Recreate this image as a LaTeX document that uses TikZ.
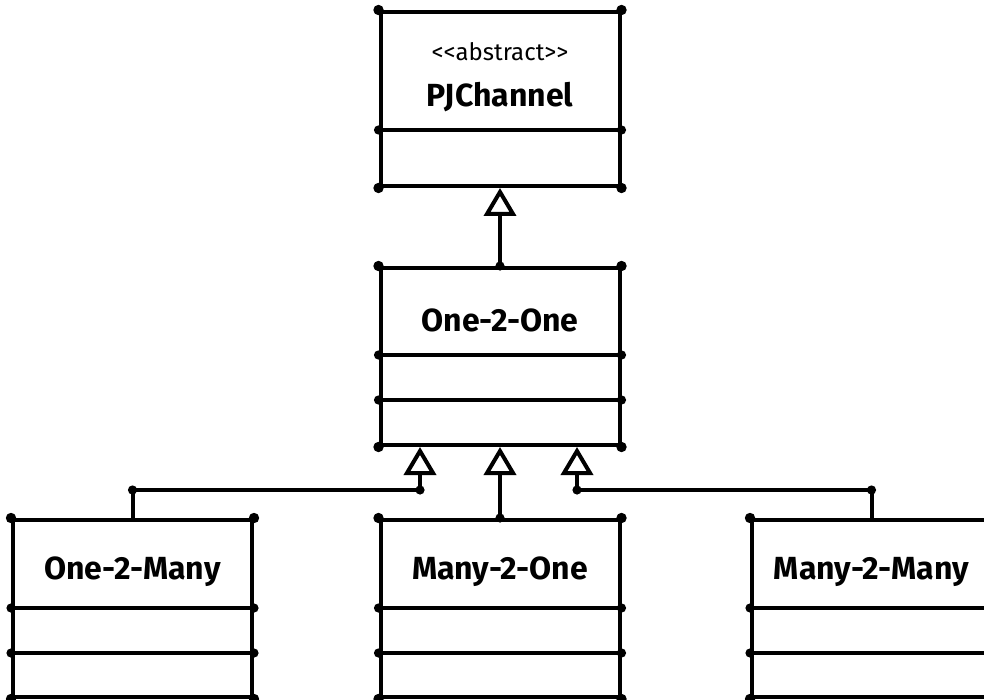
\documentclass[tikz,border=0pt]{standalone}
\usepackage{fontspec}
\setmainfont{Fira Sans}
\usepackage{tikz}
\usetikzlibrary{arrows.meta, positioning, calc}
\tikzset{
  cls/.style={rectangle, draw=black, line width=2pt, fill=white,
              minimum width=119.5pt, minimum height=88.5pt, inner sep=0pt,
              line join=round},
  clsname/.style={font=\fontsize{16}{19}\selectfont\bfseries, inner sep=0pt},
  stereo/.style={font=\fontsize{12}{14}\selectfont, inner sep=0pt},
  sep/.style={line width=2pt, draw=black, line cap=round},
  inh/.style={-{Triangle[open, length=14pt, width=16pt, fill=white]},
              line width=2pt, draw=black, line join=round},
  dot/.style={fill=black},
}

\begin{document}
\begin{tikzpicture}[x=0.5pt, y=-0.5pt]
  \useasboundingbox (0,0) rectangle (984,700);

  % Classes
  \node[cls, minimum height=87pt] (pj)  at (500, 99)    {};
  \node[cls]                      (o2o) at (500, 356.5) {};
  \node[cls]                      (o2m) at (132.5, 608.5) {};
  \node[cls]                      (m2o) at (500, 608.5) {};
  \node[cls]                      (m2m) at (871.5, 608.5) {};

  % Names
  \node[stereo]  (pjst)   at (500, 52)  {<\kern0pt<abstract>\kern0pt>};
  \node[clsname] (pjname) at (500, 97)  {PJChannel};
  \node[clsname] (o2oname) at (500, 320) {One-2-One};
  \node[clsname] (o2mname) at (132.5, 572) {One-2-Many};
  \node[clsname] (m2oname) at (500, 572) {Many-2-One};
  \node[clsname] (m2mname) at (871.5, 572) {Many-2-Many};

  % Compartments
  \draw[sep] (pj.west |- 0,130) -- (pj.east |- 0,130);
  \foreach \y in {355,400}
    \draw[sep] (o2o.west |- 0,\y) -- (o2o.east |- 0,\y);
  \foreach \n in {o2m,m2o,m2m}
    \foreach \y in {608,653}
      \draw[sep] (\n.west |- 0,\y) -- (\n.east |- 0,\y);

  % Generalisation
  \coordinate (jl) at (420,490);
  \coordinate (jr) at (577,490);
  \draw[inh] (o2o.north) -- (pj.south);
  \draw[inh] (m2o.north) -- (o2o.south);
  \draw[inh] (o2m.north) |- (jl) -- (jl |- o2o.south);
  \draw[inh] (m2m.north) |- (jr) -- (jr |- o2o.south);

  % Corner dots
  \foreach \n in {pj,o2o,o2m,m2o,m2m}
    \foreach \a in {north west,north east,south west,south east}
      \fill[dot] (\n.\a) circle (2.6pt);
  \foreach \y in {130}
    \fill[dot] (pj.west |- 0,\y) circle (2.3pt) (pj.east |- 0,\y) circle (2.3pt);
  \foreach \y in {355,400}
    \fill[dot] (o2o.west |- 0,\y) circle (2.3pt) (o2o.east |- 0,\y) circle (2.3pt);
  \foreach \n in {o2m,m2o,m2m}
    \foreach \y in {608,653}
      \fill[dot] (\n.west |- 0,\y) circle (2.3pt) (\n.east |- 0,\y) circle (2.3pt);
  \fill[dot] (o2m.north |- jl) circle (2.3pt) (jl) circle (2.3pt);
  \fill[dot] (m2m.north |- jr) circle (2.3pt) (jr) circle (2.3pt);
  \fill[dot] (o2o.north) circle (2.3pt) (m2o.north) circle (2.3pt);
\end{tikzpicture}
\end{document}
